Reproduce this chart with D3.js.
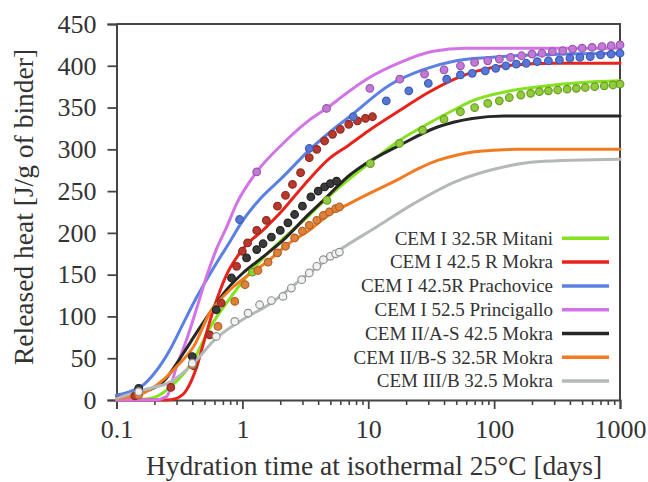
<!DOCTYPE html>
<html>
<head>
<meta charset="utf-8">
<script src="https://cdn.jsdelivr.net/npm/d3@7"></script>
<style>
  body { margin: 0; background: #fff; }
  svg text { font-family: "Liberation Serif", "Times New Roman", serif; fill: #333; }
</style>
</head>
<body>
<svg id="chart" width="648" height="482"></svg>
<script>
// Series names (legend order)
var seriesNames = ["CEM I 32.5R Mitani", "CEM I 42.5 R Mokra", "CEM I 42.5R Prachovice",
  "CEM I 52.5 Princigallo", "CEM II/A-S 42.5 Mokra", "CEM II/B-S 32.5R Mokra", "CEM III/B 32.5 Mokra"];

// Model curves [days, J/g]
var mitaniLine = [[0.1,0],[0.17,1],[0.2,3],[0.27,16],[0.41,48],[0.55,86],[0.8,122],[1.14,152],[1.65,178],
  [2.37,200],[3.4,221],[4.5,239],[10.5,285],[17.8,311],[27,327],[49,348],[67,358],[124,369],[229,375],[500,380],[1000,382]];
var mokraLine = [[0.1,0],[0.25,0],[0.3,2],[0.36,12],[0.43,38],[0.5,72],[0.6,112],[0.75,150],[1,180],[1.5,205],
  [2,224],[3,255],[5,290],[7,305],[10,322],[18,347],[30,368],[50,385],[70,393],[120,400],[300,403],[1000,403]];
var prachoviceLine = [[0.1,6],[0.128,10],[0.163,18],[0.2,32],[0.27,62],[0.34,92],[0.43,122],[0.59,158],[0.8,190],
  [1,214],[1.37,240],[2.1,267],[3.4,299],[5.6,327],[7.1,339],[14.8,377],[27,395],[50,406],[92,410],[200,413],[1000,415]];
var principigalloLine = [[0.1,0],[0.2,0],[0.25,4],[0.3,40],[0.36,72],[0.43,108],[0.52,148],[0.62,180],[0.75,207],
  [0.9,235],[1.3,273],[2.1,307],[3.4,335],[4.66,349],[6.3,364],[10,385],[18,404],[32,417],[60,421],[1000,421]];
var cem2asLine = [[0.1,3],[0.15,8],[0.235,22],[0.34,56],[0.43,80],[0.55,104],[0.75,132],[1.01,152],[1.37,168],
  [2.1,191],[3.4,223],[4.4,239],[7.1,269],[9.6,283],[17.8,305],[36,327],[67,337],[120,340],[1000,340]];
var cem2bsLine = [[0.1,2],[0.15,6],[0.235,24],[0.3,40],[0.41,64],[0.55,104],[0.75,128],[1.08,148],[1.56,165],
  [2.37,188],[3.4,203],[4.9,222],[7.1,235],[10.8,249],[17.8,265],[25,277],[36,287],[50,293],[70,297],[100,299],[150,300],[1000,300]];
var cem3bLine = [[0.1,2],[0.163,12],[0.27,22],[0.41,44],[0.62,74],[1,96],[1.65,115],[2.7,140],[4,160],
  [6,180],[10.8,204],[23,235],[49,261],[105,277],[220,285],[1000,288]];

// Measured points [days, J/g]
var mitaniDots = [[1.2,153],[4.7,239],[10.4,283],[17.7,307],[27,323],[40,336],[54,345],[70,350],[89,355],[110,358],
  [132,362],[163,365],[195,367],[229,369],[270,370],[320,371],[380,372],[450,373],[530,374],[630,375],[750,376],[880,377],[1000,378]];
var mokraDots = [[0.14,5],[0.27,15],[0.41,41],[0.55,78],[0.68,116],[0.9,160],[1.0,178],[1.1,188],[1.3,203],[1.55,215],
  [1.9,232],[2.2,245],[2.5,258],[2.9,272],[3.4,290],[3.9,300],[4.5,310],[5.2,318],[6,324],[7,330],[8.2,334],[9.5,337],[10.8,339]];
var prachoviceDots = [[0.95,216],[3.4,301],[7.6,339],[13.9,358],[21,370],[30,379],[42,384],[54,389],[67,391],[85,394],
  [103,397],[124,400],[150,402],[180,403],[220,405],[270,406],[330,407],[400,409],[480,410],[580,411],[700,413],[850,414],[1000,415]];
var principigalloDots = [[1.3,273],[4.66,349],[10.3,373],[17.8,384],[28,390],[40,395],[54,400],[70,404],[89,406],
  [110,408],[135,410],[165,412],[200,414],[240,415],[290,417],[350,418],[420,420],[500,421],[600,422],[720,423],[850,424],[1000,425]];
var cem2asDots = [[0.15,14],[0.4,52],[0.62,108],[0.82,146],[1.08,170],[1.3,180],[1.46,187],[1.7,195],[2,203],
  [2.3,212],[2.6,222],[3,232],[3.5,243],[4,250],[4.5,255],[5,259],[5.6,262]];
var cem2bsDots = [[0.15,6],[0.4,42],[0.64,88],[0.87,118],[1.05,138],[1.33,155],[1.6,165],[1.9,176],[2.2,184],
  [2.6,194],[3.0,202],[3.4,209],[3.9,215],[4.4,221],[4.9,225],[5.5,229],[5.9,231]];
var cem3bDots = [[0.15,10],[0.4,44],[0.62,76],[0.87,94],[1.11,104],[1.37,114],[1.7,119],[2.1,124],[2.45,134],
  [2.96,144],[3.4,152],[3.9,160],[4.4,168],[5.0,172],[5.5,175],[5.9,177]];

var xTicks = [0.1, 1, 10, 100, 1000];
var yTicks = [0, 50, 100, 150, 200, 250, 300, 350, 400, 450];

var lineColors = ["#84e21e", "#e8231b", "#5b80e4", "#d274e6", "#262626", "#f27b1f", "#b4b8b8"];
var dotFill = ["#90cc3c", "#b8382c", "#5676d8", "#c27ad6", "#3a3a3a", "#e08236", "#f2f2f2"];
var dotStroke = ["#6c9a26", "#8e2a22", "#3e5cb6", "#9a56b0", "#222", "#b0602a", "#8e9292"];

var lines = [mitaniLine, mokraLine, prachoviceLine, principigalloLine, cem2asLine, cem2bsLine, cem3bLine];
var dots = [mitaniDots, mokraDots, prachoviceDots, principigalloDots, cem2asDots, cem2bsDots, cem3bDots];

var plotLeft = 116.5, plotRight = 620, plotTop = 24, plotBottom = 400;
var serif = "Liberation Serif";

var x = d3.scaleLog().domain([0.1, 1000]).range([plotLeft, plotRight]);
var y = d3.scaleLinear().domain([0, 450]).range([plotBottom, plotTop]);

var svg = d3.select("#chart");

// frame (top and right)
svg.append("path")
  .attr("d", "M" + plotLeft + "," + plotTop + "H" + plotRight + "V" + plotBottom)
  .attr("fill", "none")
  .attr("stroke", "#444")
  .attr("stroke-width", 2);

// minor ticks on x
var minor = [];
xTicks.slice(0, -1).forEach(function (d) {
  for (var k = 2; k < 10; k++) minor.push(d * k);
});
svg.append("g")
  .attr("transform", "translate(0," + plotBottom + ")")
  .call(d3.axisBottom(x).tickValues(minor).tickSize(5).tickFormat(""))
  .call(function (g) { g.select(".domain").remove(); })
  .selectAll("line").attr("stroke", "#444").attr("stroke-width", 1.6);

var xAxis = svg.append("g")
  .attr("transform", "translate(0," + plotBottom + ")")
  .call(d3.axisBottom(x).tickValues(xTicks).tickSize(9).tickPadding(11)
    .tickFormat(function (d) { return d < 1 ? "0.1" : String(d); }));

var yAxis = svg.append("g")
  .attr("transform", "translate(" + plotLeft + ",0)")
  .call(d3.axisLeft(y).tickValues(yTicks).tickSize(9).tickPadding(11));

[xAxis, yAxis].forEach(function (g) {
  g.attr("font-family", null).attr("font-size", null);
  g.select(".domain").attr("stroke", "#444").attr("stroke-width", 2);
  g.selectAll(".tick line").attr("stroke", "#444").attr("stroke-width", 1.8);
  g.selectAll(".tick text")
    .style("font-family", serif)
    .style("font-size", "26px")
    .attr("fill", "#333");
});

// curves
var lineGen = d3.line()
  .x(function (d) { return x(d[0]); })
  .y(function (d) { return y(d[1]); })
  .curve(d3.curveMonotoneX);

var plot = svg.append("g");
lines.forEach(function (data, i) {
  plot.append("path")
    .datum(data)
    .attr("fill", "none")
    .attr("stroke", lineColors[i])
    .attr("stroke-width", 3)
    .attr("stroke-linejoin", "round")
    .attr("stroke-linecap", "round")
    .attr("d", lineGen);
});

// measured points
dots.forEach(function (data, i) {
  plot.append("g")
    .selectAll("circle")
    .data(data)
    .enter().append("circle")
    .attr("cx", function (d) { return x(d[0]); })
    .attr("cy", function (d) { return y(d[1]); })
    .attr("r", 3.8)
    .attr("fill", dotFill[i])
    .attr("stroke", dotStroke[i])
    .attr("stroke-width", 1.2);
});

// legend
var legend = svg.append("g");
seriesNames.forEach(function (name, i) {
  var ly = 238.3 + i * 23.8;
  legend.append("line")
    .attr("x1", 562).attr("x2", 609)
    .attr("y1", ly).attr("y2", ly)
    .attr("stroke", lineColors[i])
    .attr("stroke-width", 3.5);
  legend.append("text")
    .attr("x", 553).attr("y", ly)
    .attr("dy", "0.33em")
    .attr("text-anchor", "end")
    .style("font-family", serif)
    .style("font-size", "19px")
    .text(name);
});

// axis titles
svg.append("text")
  .attr("x", 374)
  .attr("y", 475)
  .attr("text-anchor", "middle")
  .style("font-family", serif)
  .style("font-size", "27.5px")
  .text("Hydration time at isothermal 25\u00B0C [days]");

svg.append("text")
  .attr("transform", "translate(33,207) rotate(-90)")
  .attr("text-anchor", "middle")
  .style("font-family", serif)
  .style("font-size", "27.5px")
  .text("Released heat [J/g of binder]");
</script>
</body>
</html>
